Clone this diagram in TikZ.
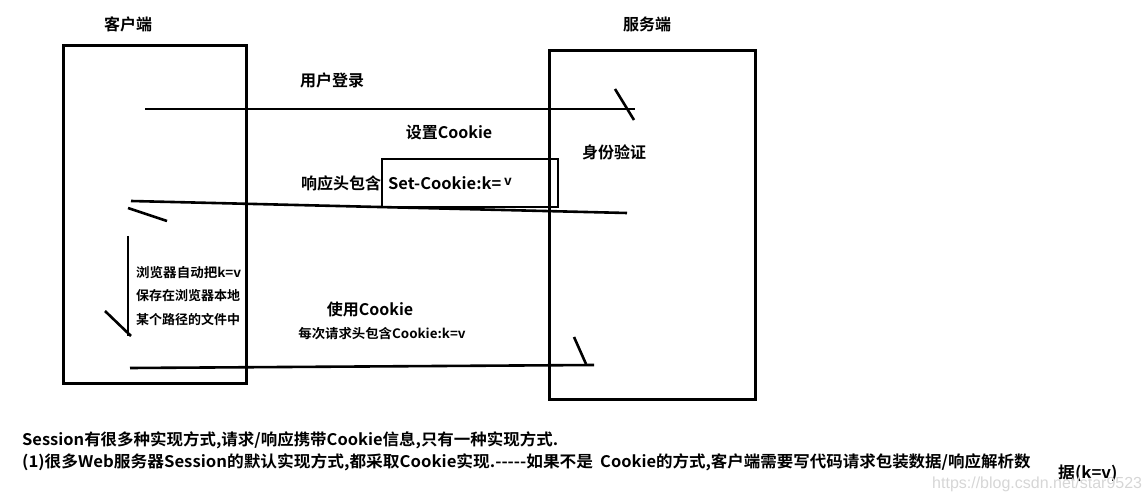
\documentclass[tikz,border=0pt]{standalone}
\usepackage{fontspec}
\setmainfont{Noto Sans CJK SC}[BoldFont={* Bold}]
\newfontfamily\wmfont{Liberation Sans}
\begin{document}
\begin{tikzpicture}[x=1pt,y=-1pt,
  box/.style={draw=black,line width=3pt},
  wire/.style={draw=black,line width=2.6pt},
  lbl/.style={inner sep=0pt,font=\fontsize{16}{18}\selectfont\bfseries},
  small/.style={inner sep=0pt,font=\fontsize{13}{15}\selectfont\bfseries}]
\useasboundingbox (0,0) rectangle (1148,502);
% boxes
\draw[box] (63,46) rectangle (246,383);
\draw[box] (549,51) rectangle (755,399);
\node[lbl] (client) at (128,24) {客户端};
\node[lbl] (server) at (647,24) {服务端};
% login
\node[lbl] (login) at (332,80) {用户登录};
\coordinate (l1a) at (145,109);
\coordinate (l1b) at (635,109);
\draw[wire] (l1a) -- (l1b);
\coordinate (t1a) at (615,89);
\coordinate (t1b) at (634,120);
\draw[wire] (t1a) -- (t1b);
\node[lbl] (auth) at (614,152) {身份验证};
% set cookie
\node[lbl] (setc) at (449,133) {设置Cookie};
\draw[box,line width=2.4pt] (382,159) rectangle (558,207);
\node[lbl,anchor=west] (sethdr) at (388,183) {\scalebox{1.03}[1]{Set-Cookie:k=\,\raisebox{4pt}{\fontsize{13}{13}\selectfont v}}};
\node[lbl] (resp) at (341,183) {响应头包含};
\coordinate (l2a) at (131,201);
\coordinate (l2b) at (627,213);
\draw[wire] (l2a) -- (l2b);
\coordinate (t2a) at (128,208);
\coordinate (t2b) at (167,221);
\draw[wire] (t2a) -- (t2b);
% browser store
\coordinate (v1a) at (128,236);
\coordinate (v1b) at (128,336);
\draw[wire] (v1a) -- (v1b);
\coordinate (t3a) at (105,311);
\coordinate (t3b) at (131,336);
\draw[wire] (t3a) -- (t3b);
\node[small,anchor=west] (st1) at (136,273) {\scalebox{1.04}[1]{浏览器自动把k=v}};
\node[small,anchor=west] (st2) at (136,296) {保存在浏览器本地};
\node[small,anchor=west] (st3) at (136,319) {某个路径的文件中};
% use cookie
\node[lbl] (usec) at (370,309) {使用Cookie};
\node[small] (req) at (382,334) {\scalebox{1.03}[1]{每次请求头包含Cookie:k=v}};
\coordinate (l3a) at (130,368);
\coordinate (l3b) at (594,365);
\draw[wire] (l3a) -- (l3b);
\coordinate (t4a) at (574,337);
\coordinate (t4b) at (586,364);
\draw[wire] (t4a) -- (t4b);
% bottom text
\node[lbl,anchor=west] (b1) at (22,440) {\scalebox{1.03}[1]{Session有很多种实现方式,请求/响应携带Cookie信息,只有一种实现方式.}};
\node[lbl,anchor=west] (b2) at (22,462) {\scalebox{1.045}[1]{(1)很多Web服务器Session的默认实现方式,都采取Cookie实现.{-}{-}{-}{-}{-}如果不是}};
\node[lbl,anchor=west] (b3) at (600,462) {\scalebox{1.03}[1]{Cookie的方式,客户端需要写代码请求包装数据/响应解析数}};
\node[lbl,anchor=west] (b4) at (1058,473) {\scalebox{1.05}[1]{据(k=v)}};
\node[inner sep=0pt,anchor=west,text=black!16,font=\wmfont\fontsize{16}{18}\selectfont] (wm) at (932,484) {https://blog.csdn.net/star9523};
\end{tikzpicture}
\end{document}
